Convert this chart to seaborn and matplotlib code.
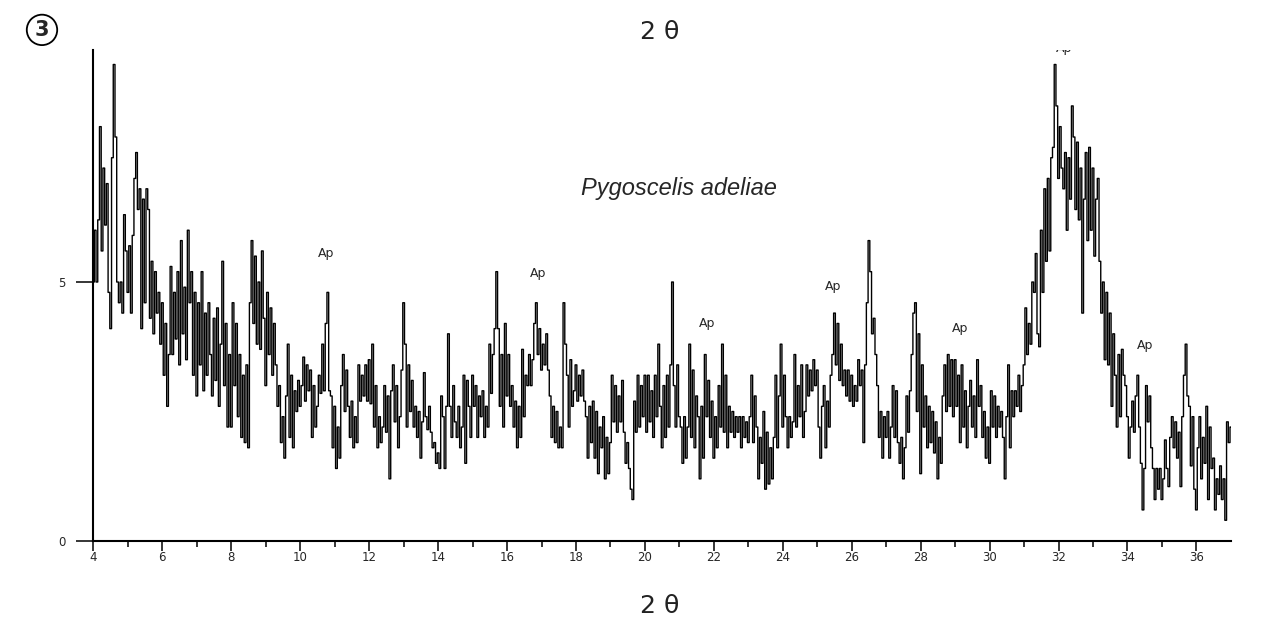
import numpy as np
import pandas as pd
import matplotlib
matplotlib.use('Agg')
import matplotlib.pyplot as plt
import seaborn as sns

# intensity, 0.05 deg steps, one row per degree (4..36) + end point 37
deg04 = [5.0, 6.0, 5.0, 6.2, 8.0, 5.6, 7.2, 6.1, 6.9, 4.8, 4.1, 7.4, 9.2, 7.8, 5.0, 4.6, 5.0, 4.4, 6.3, 5.6]
deg05 = [4.8, 5.7, 4.4, 5.9, 7.0, 7.5, 6.4, 6.8, 4.1, 6.6, 4.6, 6.8, 6.4, 4.3, 5.4, 4.0, 5.2, 4.4, 4.8, 3.8]
deg06 = [4.6, 3.2, 4.2, 2.6, 3.6, 5.3, 3.6, 4.8, 3.9, 5.2, 3.4, 5.8, 4.0, 4.9, 3.5, 6.0, 4.6, 5.2, 3.2, 4.8]
deg07 = [2.8, 4.6, 3.4, 5.2, 2.9, 4.4, 3.2, 4.6, 3.6, 2.8, 4.3, 3.1, 4.5, 2.6, 3.8, 5.4, 3.0, 4.2, 2.2, 3.6]
deg08 = [2.2, 4.6, 3.0, 4.2, 2.4, 3.6, 2.0, 3.2, 1.9, 3.4, 1.8, 4.6, 5.8, 4.2, 5.5, 3.8, 5.0, 3.7, 5.6, 4.3]
deg09 = [3.0, 4.8, 3.6, 4.5, 3.2, 4.2, 3.4, 2.6, 3.0, 1.9, 2.4, 1.6, 2.8, 3.8, 2.0, 3.2, 1.8, 2.9, 2.5, 3.1]
deg10 = [2.6, 3.0, 3.55, 2.7, 3.4, 2.9, 3.3, 2.0, 3.0, 2.2, 2.6, 3.2, 2.85, 3.8, 2.9, 4.2, 4.8, 2.9, 2.8, 1.8]
deg11 = [2.6, 1.4, 2.2, 1.6, 3.0, 3.6, 2.5, 3.3, 2.6, 2.0, 2.7, 1.8, 2.4, 1.9, 3.4, 2.7, 3.2, 2.8, 3.4, 2.7]
deg12 = [3.5, 2.65, 3.8, 2.2, 3.0, 1.8, 2.4, 1.9, 2.2, 3.0, 2.1, 2.8, 1.2, 2.9, 3.4, 2.3, 3.0, 1.8, 2.4, 3.3]
deg13 = [4.6, 3.8, 2.2, 3.4, 2.5, 3.1, 2.2, 2.6, 2.0, 2.5, 1.6, 2.3, 3.25, 2.4, 2.15, 2.6, 2.1, 1.8, 1.9, 1.5]
deg14 = [1.7, 1.4, 2.8, 2.4, 1.4, 2.6, 4.0, 2.6, 2.0, 3.0, 2.3, 2.0, 2.6, 1.8, 2.2, 3.2, 1.5, 3.1, 2.6, 2.0]
deg15 = [3.2, 2.6, 3.0, 2.0, 2.8, 2.4, 2.9, 2.0, 2.6, 2.2, 3.8, 2.85, 3.6, 4.1, 5.2, 4.1, 2.6, 3.6, 2.2, 4.2]
deg16 = [2.8, 3.6, 2.6, 3.0, 2.2, 2.7, 1.8, 2.6, 2.0, 3.7, 2.4, 3.2, 3.0, 3.6, 3.0, 3.5, 4.2, 4.6, 3.6, 4.1]
deg17 = [3.3, 3.8, 3.4, 4.0, 3.3, 2.8, 2.0, 2.6, 1.9, 2.5, 1.8, 2.2, 1.8, 4.6, 3.8, 3.2, 2.2, 3.5, 2.6, 2.9]
deg18 = [3.4, 2.7, 3.2, 2.8, 3.3, 2.7, 2.4, 1.6, 2.6, 1.9, 2.7, 1.6, 2.5, 1.3, 2.2, 1.8, 2.4, 1.2, 2.0, 1.3]
deg19 = [1.9, 3.2, 2.3, 3.0, 2.1, 2.8, 2.3, 3.1, 2.1, 1.5, 1.9, 1.4, 1.0, 0.8, 2.7, 2.1, 3.2, 2.2, 3.0, 2.4]
deg20 = [3.2, 2.1, 3.2, 2.3, 2.9, 2.0, 3.2, 2.4, 3.8, 2.6, 1.8, 3.0, 2.0, 3.2, 2.2, 3.4, 5.0, 3.0, 2.2, 3.4]
deg21 = [2.4, 2.2, 1.5, 2.4, 1.6, 2.2, 3.8, 2.0, 3.3, 1.8, 2.8, 2.4, 1.2, 2.6, 1.6, 3.6, 2.4, 3.1, 2.0, 2.7]
deg22 = [1.6, 2.4, 1.8, 3.0, 2.2, 3.8, 2.1, 3.2, 1.8, 2.6, 2.1, 2.5, 2.0, 2.4, 2.1, 2.4, 1.8, 2.4, 2.0, 2.3]
deg23 = [1.9, 2.4, 3.2, 1.9, 2.8, 2.2, 1.2, 2.0, 1.5, 2.5, 1.0, 2.1, 1.1, 1.8, 1.2, 2.0, 3.2, 1.8, 2.8, 3.8]
deg24 = [2.2, 3.2, 2.4, 1.8, 2.4, 2.0, 2.3, 3.6, 2.2, 3.0, 2.4, 3.4, 2.0, 2.5, 3.4, 2.8, 3.3, 2.9, 3.5, 3.0]
deg25 = [3.3, 2.2, 1.6, 2.6, 3.0, 1.8, 2.7, 2.2, 3.2, 3.6, 4.4, 3.4, 4.2, 3.1, 3.8, 3.0, 3.3, 2.8, 3.3, 2.7]
deg26 = [3.2, 2.6, 3.0, 2.7, 3.5, 3.0, 3.3, 1.9, 3.4, 4.6, 5.8, 5.2, 4.0, 4.3, 3.6, 3.0, 2.0, 2.5, 1.6, 2.4]
deg27 = [2.0, 2.5, 1.6, 2.2, 3.0, 2.0, 2.9, 1.9, 1.5, 2.0, 1.2, 1.8, 2.8, 2.1, 2.9, 3.6, 4.4, 4.6, 2.5, 4.0]
deg28 = [1.3, 3.4, 2.2, 2.8, 1.8, 2.6, 1.9, 2.5, 1.7, 2.3, 1.2, 2.0, 1.5, 2.8, 3.4, 2.5, 3.6, 2.6, 3.5, 2.4]
deg29 = [3.5, 2.6, 3.2, 1.9, 3.4, 2.2, 2.9, 1.8, 2.6, 3.1, 2.2, 2.8, 2.0, 3.5, 2.6, 3.0, 2.0, 2.5, 1.6, 2.2]
deg30 = [1.5, 2.9, 2.2, 2.8, 2.0, 2.6, 2.2, 2.5, 2.0, 1.2, 2.4, 3.4, 1.8, 2.9, 2.4, 2.9, 2.6, 3.2, 2.5, 3.0]
deg31 = [3.4, 4.5, 3.6, 4.2, 3.8, 5.0, 4.8, 5.55, 4.0, 3.75, 6.0, 4.8, 6.8, 5.4, 7.0, 5.6, 7.4, 7.6, 9.2, 8.4]
deg32 = [7.0, 8.0, 7.2, 6.8, 7.5, 6.0, 7.4, 6.6, 8.4, 7.8, 6.4, 7.7, 6.2, 7.2, 4.4, 6.6, 7.5, 5.8, 7.6, 6.0]
deg33 = [7.2, 5.5, 6.6, 7.0, 5.4, 4.4, 5.0, 3.5, 4.8, 3.4, 4.4, 2.6, 4.0, 3.2, 2.2, 3.6, 2.4, 3.7, 3.2, 3.0]
deg34 = [2.4, 1.6, 2.2, 2.7, 2.1, 2.8, 3.2, 2.2, 1.5, 0.6, 1.4, 3.0, 2.3, 2.8, 1.8, 1.4, 0.8, 1.4, 1.0, 1.4]
deg35 = [0.8, 1.2, 1.95, 1.4, 1.05, 2.0, 2.4, 1.8, 2.3, 1.6, 2.1, 1.05, 2.4, 3.2, 3.8, 2.8, 2.6, 1.45, 2.4, 1.0]
deg36 = [0.6, 1.8, 2.4, 1.2, 2.0, 1.5, 2.6, 0.8, 2.2, 1.4, 1.6, 0.6, 1.2, 0.9, 1.45, 0.8, 1.2, 0.4, 2.3, 1.9]
deg37 = [2.2]

# Ap (apatite) peak labels; the one at 32 sits on the top edge and is cut off
ap_x = [10.75, 16.9, 21.8, 25.45, 29.15, 32.15, 34.5]
ap_y = [5.56, 5.17, 4.2, 4.92, 4.1, 9.5, 3.78]

x_ticks = [4, 6, 8, 10, 12, 14, 16, 18, 20, 22, 24, 26, 28, 30, 32, 34, 36]
y_ticks = [0, 5]

intensity = (deg04 + deg05 + deg06 + deg07 + deg08 + deg09 + deg10 + deg11 + deg12
             + deg13 + deg14 + deg15 + deg16 + deg17 + deg18 + deg19 + deg20 + deg21
             + deg22 + deg23 + deg24 + deg25 + deg26 + deg27 + deg28 + deg29 + deg30
             + deg31 + deg32 + deg33 + deg34 + deg35 + deg36 + deg37)
two_theta = np.round(4.0 + 0.05 * np.arange(len(intensity)), 2)
df = pd.DataFrame({'2theta': two_theta, 'I': intensity})

sns.set_style('ticks')
plt.rcParams['font.family'] = ['DejaVu Sans']

fig = plt.figure(figsize=(12.61, 6.36), dpi=100)
ax = fig.add_axes([0.0741, 0.1494, 0.9020, 0.7720])

sns.lineplot(data=df, x='2theta', y='I', ax=ax, color='black', lw=1.0,
             drawstyle='steps-mid', estimator=None, sort=False)

ax.set_xlim(4, 37)
ax.set_ylim(0, 9.48)
ax.set_xticks(x_ticks)
ax.set_xticks(range(5, 37, 2), minor=True)
ax.set_yticks(y_ticks)
ax.tick_params(axis='x', which='major', length=7, width=1.3, labelsize=8.5, pad=0)
ax.tick_params(axis='x', which='minor', length=4, width=1.3)
ax.tick_params(axis='y', length=12, width=1.3, labelsize=8.5, pad=8)
ax.set_xlabel('')
ax.set_ylabel('')
for s in ['top', 'right']:
    ax.spines[s].set_visible(False)
for s in ['left', 'bottom']:
    ax.spines[s].set_linewidth(1.5)
    ax.spines[s].set_color('black')

for xx, yy in zip(ap_x, ap_y):
    ax.text(xx, yy, 'Ap', fontsize=9, ha='center', va='center', clip_on=True)

ax.text(21.0, 6.8, 'Pygoscelis adeliae', fontsize=17, style='italic',
        family='Liberation Sans', ha='center', va='center')

fig.text(0.5234, 0.047, '2 θ', fontsize=18, ha='center', va='center', color='#222222')
fig.text(0.5234, 0.950, '2 θ', fontsize=18, ha='center', va='center', color='#222222')
fig.text(0.0333, 0.953, '3', fontsize=15, fontweight='bold', ha='center', va='center',
         bbox=dict(boxstyle='circle,pad=0.25', fc='white', ec='black', lw=1.3))

fig.savefig('out.png', dpi=100)
